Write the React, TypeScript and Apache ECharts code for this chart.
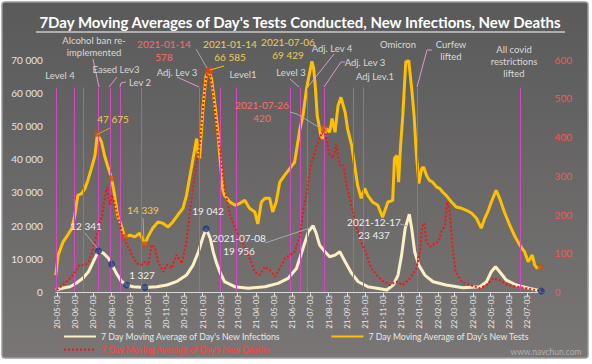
import React, { useEffect, useRef } from "react";
import * as echarts from "echarts";

const tests: [string, number][] = [
  ["2020-05-01", 5100], ["2020-05-05", 11100], ["2020-05-13", 15000], ["2020-05-21", 17100], ["2020-05-28", 19200],
  ["2020-06-02", 23100], ["2020-06-07", 29100], ["2020-06-14", 29700], ["2020-06-19", 31200], ["2020-06-24", 33600],
  ["2020-06-30", 37200], ["2020-07-06", 41100], ["2020-07-10", 47675], ["2020-07-17", 45100], ["2020-07-22", 41100],
  ["2020-07-27", 38100], ["2020-08-03", 34200], ["2020-08-08", 29100], ["2020-08-13", 23100], ["2020-08-19", 20100],
  ["2020-08-25", 16600], ["2020-09-03", 17100], ["2020-09-11", 16600], ["2020-09-19", 17700], ["2020-09-28", 14339],
  ["2020-10-03", 16600], ["2020-10-11", 19200], ["2020-10-20", 21100], ["2020-10-28", 20700], ["2020-11-06", 19600],
  ["2020-11-14", 21100], ["2020-11-22", 23100], ["2020-12-01", 25200], ["2020-12-07", 29100], ["2020-12-12", 34200],
  ["2020-12-17", 39100], ["2020-12-24", 46200], ["2020-12-27", 41100], ["2020-12-29", 40200], ["2021-01-04", 56100],
  ["2021-01-09", 65100], ["2021-01-14", 66585], ["2021-01-18", 64200], ["2021-01-24", 56100], ["2021-01-29", 48000],
  ["2021-02-01", 41100], ["2021-02-06", 31000], ["2021-02-09", 29100], ["2021-02-18", 27100], ["2021-02-27", 26100],
  ["2021-03-07", 26700], ["2021-03-15", 27600], ["2021-03-23", 25200], ["2021-04-01", 24100], ["2021-04-06", 20500],
  ["2021-04-12", 27100], ["2021-04-18", 28200], ["2021-04-26", 28200], ["2021-05-01", 24100], ["2021-05-07", 27100],
  ["2021-05-13", 33100], ["2021-05-21", 35100], ["2021-05-30", 37200], ["2021-06-07", 39100], ["2021-06-16", 49200],
  ["2021-06-21", 53100], ["2021-06-27", 61200], ["2021-07-06", 69429], ["2021-07-09", 67300], ["2021-07-12", 61200],
  ["2021-07-15", 53100], ["2021-07-21", 47100], ["2021-07-24", 46200], ["2021-07-31", 49200], ["2021-08-05", 48100],
  ["2021-08-09", 52200], ["2021-08-14", 48100], ["2021-08-19", 56100], ["2021-08-24", 58600], ["2021-08-31", 54100],
  ["2021-09-04", 49200], ["2021-09-11", 44100], ["2021-09-16", 38100], ["2021-09-21", 32100], ["2021-09-27", 28200],
  ["2021-10-03", 31200], ["2021-10-08", 29100], ["2021-10-16", 27100], ["2021-10-25", 26100], ["2021-11-02", 22500],
  ["2021-11-11", 27100], ["2021-11-19", 27600], ["2021-11-22", 40200], ["2021-11-26", 41100], ["2021-11-29", 33100],
  ["2021-12-02", 43200], ["2021-12-06", 53100], ["2021-12-11", 69200], ["2021-12-16", 69700], ["2021-12-21", 61200],
  ["2021-12-25", 53100], ["2021-12-29", 41100], ["2022-01-02", 32700], ["2022-01-07", 37200], ["2022-01-10", 37600],
  ["2022-01-15", 35100], ["2022-01-20", 33600], ["2022-01-25", 33100], ["2022-02-01", 31600], ["2022-02-06", 31200],
  ["2022-02-11", 30100], ["2022-02-17", 29100], ["2022-02-26", 27100], ["2022-03-06", 25600], ["2022-03-15", 25200],
  ["2022-03-23", 24600], ["2022-04-01", 23700], ["2022-04-09", 22200], ["2022-04-17", 19200], ["2022-04-23", 22200],
  ["2022-04-28", 24100], ["2022-05-04", 27100], ["2022-05-12", 30600], ["2022-05-18", 28200], ["2022-05-26", 24100],
  ["2022-06-04", 20100], ["2022-06-13", 16600], ["2022-06-21", 14100], ["2022-06-29", 12100], ["2022-07-05", 9100],
  ["2022-07-12", 11100], ["2022-07-16", 8100], ["2022-07-20", 7200], ["2022-07-26", 7500],
];

const infections: [string, number][] = [
  ["2020-05-01", 600], ["2020-05-13", 1200], ["2020-05-25", 1600], ["2020-06-05", 2700], ["2020-06-16", 4200],
  ["2020-06-25", 6100], ["2020-07-03", 9100], ["2020-07-12", 12341], ["2020-07-20", 11700], ["2020-07-29", 10100],
  ["2020-08-03", 8400], ["2020-08-11", 5600], ["2020-08-19", 3300], ["2020-08-28", 2100], ["2020-09-08", 1600],
  ["2020-09-28", 1327], ["2020-10-18", 1600], ["2020-11-04", 2100], ["2020-11-20", 3100], ["2020-12-07", 5100],
  ["2020-12-18", 8100], ["2020-12-27", 12100], ["2021-01-03", 16100], ["2021-01-09", 19042], ["2021-01-16", 16100],
  ["2021-01-21", 12100], ["2021-01-26", 9000], ["2021-02-01", 6100], ["2021-02-09", 3100], ["2021-02-26", 1600],
  ["2021-03-21", 1100], ["2021-04-18", 1600], ["2021-05-10", 2600], ["2021-05-27", 4100], ["2021-06-10", 7100],
  ["2021-06-21", 13100], ["2021-06-30", 18100], ["2021-07-08", 19956], ["2021-07-13", 17800], ["2021-07-19", 14100],
  ["2021-07-28", 12100], ["2021-08-05", 10600], ["2021-08-14", 11100], ["2021-08-22", 12100], ["2021-08-31", 9100],
  ["2021-09-11", 5600], ["2021-09-22", 3100], ["2021-10-08", 1600], ["2021-10-31", 900], ["2021-11-09", 600],
  ["2021-11-20", 2100], ["2021-11-28", 5100], ["2021-12-04", 11100], ["2021-12-10", 19100], ["2021-12-17", 23437],
  ["2021-12-21", 19100], ["2021-12-26", 12100], ["2022-01-02", 8100], ["2022-01-12", 5100], ["2022-01-26", 3100],
  ["2022-02-17", 2100], ["2022-03-17", 1300], ["2022-04-15", 1600], ["2022-04-26", 3100], ["2022-05-04", 6100],
  ["2022-05-11", 7600], ["2022-05-18", 6100], ["2022-05-29", 3600], ["2022-06-15", 2100], ["2022-07-08", 1100],
  ["2022-07-27", 300],
];

const deaths: [string, number][] = [
  ["2020-05-03", 5], ["2020-05-19", 27], ["2020-05-30", 44], ["2020-06-10", 70], ["2020-06-19", 70],
  ["2020-06-25", 78], ["2020-06-30", 96], ["2020-07-06", 130], ["2020-07-12", 165], ["2020-07-18", 199],
  ["2020-07-23", 251], ["2020-07-26", 272], ["2020-07-31", 225], ["2020-08-03", 251], ["2020-08-07", 233],
  ["2020-08-11", 208], ["2020-08-17", 173], ["2020-08-22", 143], ["2020-08-29", 122], ["2020-09-06", 96],
  ["2020-09-14", 74], ["2020-09-22", 70], ["2020-09-28", 78], ["2020-10-04", 70], ["2020-10-09", 122],
  ["2020-10-15", 113], ["2020-10-20", 78], ["2020-10-29", 52], ["2020-11-04", 70], ["2020-11-12", 61],
  ["2020-11-20", 96], ["2020-11-29", 74], ["2020-12-07", 130], ["2020-12-12", 199], ["2020-12-18", 268],
  ["2020-12-24", 328], ["2020-12-30", 389], ["2021-01-04", 484], ["2021-01-09", 553], ["2021-01-14", 578],
  ["2021-01-21", 509], ["2021-01-27", 423], ["2021-02-01", 372], ["2021-02-09", 268], ["2021-02-18", 199],
  ["2021-03-01", 156], ["2021-03-10", 130], ["2021-03-21", 96], ["2021-04-01", 52], ["2021-04-09", 44],
  ["2021-04-18", 65], ["2021-04-26", 57], ["2021-05-05", 40], ["2021-05-13", 61], ["2021-05-22", 87],
  ["2021-05-30", 96], ["2021-06-07", 104], ["2021-06-16", 147], ["2021-06-21", 208], ["2021-06-27", 251],
  ["2021-07-03", 320], ["2021-07-08", 346], ["2021-07-14", 376], ["2021-07-19", 397], ["2021-07-26", 420],
  ["2021-07-31", 389], ["2021-08-05", 354], ["2021-08-11", 346], ["2021-08-16", 380], ["2021-08-22", 328],
  ["2021-08-28", 328], ["2021-09-02", 277], ["2021-09-08", 242], ["2021-09-13", 208], ["2021-09-19", 165],
  ["2021-09-27", 130], ["2021-10-06", 96], ["2021-10-14", 61], ["2021-10-25", 40], ["2021-11-03", 27],
  ["2021-11-14", 18], ["2021-11-25", 27], ["2021-12-06", 18], ["2021-12-18", 35], ["2021-12-29", 61],
  ["2022-01-04", 104], ["2022-01-07", 165], ["2022-01-11", 178], ["2022-01-15", 130], ["2022-01-21", 117],
  ["2022-01-26", 122], ["2022-02-04", 130], ["2022-02-09", 156], ["2022-02-15", 173], ["2022-02-19", 233],
  ["2022-02-23", 208], ["2022-02-28", 113], ["2022-03-05", 52], ["2022-03-15", 27], ["2022-03-29", 18],
  ["2022-04-15", 10], ["2022-04-26", 18], ["2022-05-07", 35], ["2022-05-18", 31], ["2022-06-01", 18],
  ["2022-06-15", 14], ["2022-07-02", 10], ["2022-07-25", 3],
];

const testMarkers: [string, number][] = [
  ["2020-07-10", 47675], ["2020-08-03", 34200], ["2020-08-25", 16600], ["2020-09-28", 14339], ["2022-07-26", 7500],
];
const infectionMarkers: [string, number][] = [
  ["2020-07-12", 12341], ["2020-08-03", 8400], ["2020-08-28", 2100], ["2020-09-28", 1327], ["2021-01-09", 19042], ["2022-07-27", 300],
];
const peakMarkers: [string, number][] = [["2021-01-14", 66585]];
const deathMarkers: [string, number][] = [["2021-07-26", 420]];

const eventDates: string[] = [
  "2020-05-01", "2020-06-01", "2020-06-16", "2020-07-12", "2020-07-31", "2020-08-18", "2020-09-21", "2020-12-28",
  "2021-02-01", "2021-03-01", "2021-05-31", "2021-06-16", "2021-06-28", "2021-07-26", "2021-09-13", "2021-10-01",
  "2021-11-25", "2021-12-30", "2022-06-22",
];
const eventTops: number[] = [
  61500, 61500, 61500, 61500, 61500, 61500, 61500, 61500, 61500, 61500, 61500, 61500, 61500, 61500, 61500, 61500,
  71800, 61500, 61500,
];

const leftTicks = { min: 0, max: 70000, interval: 10000 };
const rightTicks = { min: 0, max: 600, interval: 100 };

const NAME_INF = "7 Day Moving Average of Day's New Infections";
const NAME_TEST = "7 Day Moving Average of Day's New Tests";
const NAME_DEATH = "7 Day Moving Average of Day's New Deaths";

function buildDays(): string[] {
  const out: string[] = [];
  const start = Date.UTC(2020, 4, 1);
  const end = Date.UTC(2022, 6, 31);
  for (let t = start; t <= end; t += 86400000) {
    out.push(new Date(t).toISOString().slice(0, 10));
  }
  return out;
}

const FONT = "Lato, 'Open Sans', sans-serif";
const NARROW = "'Liberation Sans Narrow', Lato, sans-serif";

function txt(text: string, x: number, y: number, fill: string, size = 10, extra: any = {}) {
  return {
    type: "text",
    x,
    y,
    z: 100,
    style: {
      text,
      fill,
      font: `${size}px ${FONT}`,
      textAlign: "center",
      textVerticalAlign: "middle",
      lineHeight: 12,
      ...extra,
    },
  };
}
function ln(x1: number, y1: number, x2: number, y2: number, stroke: string) {
  return { type: "line", z: 99, shape: { x1, y1, x2, y2 }, style: { stroke, lineWidth: 1 } };
}
function pl(points: number[][], stroke: string) {
  return { type: "polyline", z: 99, shape: { points }, style: { stroke, lineWidth: 1, fill: null } };
}

export default function App() {
  const ref = useRef<HTMLDivElement>(null);
  useEffect(() => {
    document.body.style.margin = "0";
    if (!ref.current) return;
    const chart = echarts.init(ref.current, null, { renderer: "svg" });
    const days = buildDays();
    const fmt = (v: number) => String(v).replace(/\B(?=(\d{3})+(?!\d))/g, " ");
    const EV = "#dc9ad0";
    const GR = "#a8a8a8";
    const YL = "#f0cc5a";
    const RD = "#ff6b6b";
    const WH = "#efefef";
    const LB = "#d9d9d9";
    const option: any = {
      animation: false,
      backgroundColor: "#ffffff",
      grid: { left: 55.8, right: 48.4, top: 59.5, bottom: 72, outerBoundsMode: "none" },
      legend: [
        {
          data: [NAME_INF, NAME_TEST],
          left: 63,
          top: 332,
          itemWidth: 32,
          itemHeight: 10,
          itemGap: 50,
          padding: 0,
          itemStyle: { opacity: 0 },
          textStyle: { color: "#e8e8e8", fontSize: 8.7, fontFamily: FONT },
        },
        {
          data: [NAME_DEATH],
          left: 63,
          top: 345,
          itemWidth: 32,
          itemHeight: 10,
          padding: 0,
          itemStyle: { opacity: 0 },
          textStyle: { color: "#ff4040", fontSize: 8.7, fontFamily: FONT },
        },
      ],
      xAxis: {
        type: "category",
        data: days,
        boundaryGap: false,
        axisLine: { lineStyle: { color: "#d9d9d9", width: 1 } },
        axisTick: {
          interval: (i: number, v: string) => v.endsWith("-03"),
          length: 4,
          lineStyle: { color: "#d9d9d9" },
        },
        axisLabel: {
          interval: (i: number, v: string) => v.endsWith("-03"),
          formatter: (v: string) => v.slice(2),
          rotate: 90,
          color: "#e6e6e6",
          fontSize: 8,
          fontFamily: NARROW,
          margin: 3,
        },
        splitLine: { show: false },
      },
      yAxis: [
        {
          type: "value",
          ...leftTicks,
          axisLine: { show: false },
          axisTick: { show: false },
          splitLine: { show: false },
          axisLabel: { color: "#e6e6e6", fontSize: 10, fontFamily: FONT, margin: 13, formatter: fmt },
        },
        {
          type: "value",
          ...rightTicks,
          axisLine: { show: false },
          axisTick: { show: false },
          splitLine: { show: false },
          axisLabel: { color: "#ff5252", fontSize: 10, fontFamily: FONT, margin: 11 },
        },
      ],
      series: [
        {
          name: "events",
          type: "line",
          data: [],
          z: 1,
          silent: true,
          markLine: {
            silent: true,
            symbol: "none",
            label: { show: false },
            lineStyle: { color: "#d846c8", width: 1, type: "solid" },
            data: eventDates.map((d, i) => [{ coord: [d, eventTops[i]] }, { coord: [d, 0] }]),
          },
        },
        {
          name: NAME_INF,
          type: "line",
          data: infections,
          symbol: "none",
          z: 3,
          lineStyle: { color: "#fdf0c6", width: 3 },
          itemStyle: { color: "#fdf0c6" },
        },
        {
          name: NAME_TEST,
          type: "line",
          data: tests,
          symbol: "none",
          z: 4,
          lineStyle: { color: "#ffc000", width: 3 },
          itemStyle: { color: "#ffc000" },
        },
        {
          name: NAME_DEATH,
          type: "line",
          yAxisIndex: 1,
          data: deaths,
          symbol: "none",
          z: 5,
          lineStyle: { color: "#ff1010", width: 2, type: [2, 2] },
          itemStyle: { color: "#ff1010" },
        },
        {
          type: "scatter",
          data: testMarkers,
          symbol: "rect",
          symbolSize: 6,
          z: 6,
          itemStyle: { color: "#b8561a" },
        },
        {
          type: "scatter",
          data: peakMarkers,
          symbol: "rect",
          symbolSize: 7,
          z: 6,
          itemStyle: { color: "#e0401a" },
        },
        {
          type: "scatter",
          data: infectionMarkers,
          symbol: "circle",
          symbolSize: 7,
          z: 6,
          itemStyle: { color: "#1f3a7e" },
        },
        {
          type: "scatter",
          yAxisIndex: 1,
          data: deathMarkers,
          symbol: "rect",
          symbolSize: 6,
          z: 6,
          itemStyle: { color: "#e0601a" },
        },
      ],
      graphic: [
        {
          type: "rect",
          z: -10,
          shape: { x: 2, y: 2, width: 586, height: 356, r: 3 },
          style: {
            fill: new echarts.graphic.LinearGradient(0, 0, 0, 1, [
              { offset: 0, color: "#5a5a5a" },
              { offset: 1, color: "#797675" },
            ]),
            stroke: "#9c9c9c",
            lineWidth: 1.5,
          },
        },
        {
          type: "text",
          x: 300,
          y: 22,
          z: 100,
          style: {
            text: "7Day Moving Averages of Day's Tests Conducted, New Infections, New Deaths",
            fill: "#ffffff",
            font: `bold 15px ${FONT}`,
            textAlign: "center",
            textVerticalAlign: "middle",
          },
        },
        { type: "line", z: 100, shape: { x1: 36, y1: 32, x2: 565, y2: 32 }, style: { stroke: "#ffffff", lineWidth: 1.2 } },
        // event labels
        txt("Level 4", 60, 75, LB, 9.5),
        txt("Alcohol ban re-\nimplemented", 94, 46, LB, 9.5),
        ln(93, 59, 99, 87, EV),
        txt("Eased Lev3", 116, 69, LB, 9.5),
        ln(117, 77, 109, 87, EV),
        txt("Lev 2", 140, 82, LB, 9.5),
        pl([[126, 82], [121, 83], [120, 87]], EV),
        txt("Adj. Lev 3", 177, 72, LB, 9.5),
        ln(177, 77, 199, 87, EV),
        txt("Level1", 243, 74, LB, 9.5),
        txt("Level 3", 291, 72, LB, 9.5),
        ln(290, 79, 299, 87, EV),
        txt("Adj. Lev 4", 332, 48, LB, 9.5),
        ln(334, 54, 307, 88, EV),
        txt("Adj. Lev 3", 365, 62, LB, 9.5),
        pl([[345, 62], [341, 62], [324, 87]], EV),
        txt("Adj Lev.1", 375, 76, LB, 9.5),
        txt("Omicron", 398, 44, LB, 9.5),
        txt("Curfew\nlifted", 451, 50, LB, 9.5),
        pl([[432, 50], [427, 50], [417, 87]], EV),
        txt("All covid\nrestrictions\nlifted", 514, 61, LB, 9.5),
        // data labels
        txt("2021-01-14\n578", 164, 50, RD, 10, { lineHeight: 13 }),
        ln(196, 49, 207, 68, GR),
        txt("2021-01-14\n66 585", 230, 50, YL, 10, { lineHeight: 13 }),
        ln(210, 70, 224, 66, "#ffc000"),
        txt("2021-07-06\n69 429", 288, 48, YL, 10, { lineHeight: 13 }),
        txt("2021-07-26\n420", 262, 111, RD, 10, { lineHeight: 13 }),
        pl([[290, 112], [297, 114], [320, 128]], GR),
        txt("47 675", 113, 119, YL, 10),
        ln(110, 128, 98, 134, "#e0a020"),
        txt("14 339", 143, 210, YL, 10),
        ln(143, 218, 144, 242, GR),
        txt("12 341", 86, 226, WH, 10),
        ln(85, 233, 97, 248, GR),
        txt("1 327", 142, 275, WH, 10),
        txt("19 042", 208, 211, WH, 10),
        txt("2021-07-08\n19 956", 239, 244, WH, 10, { lineHeight: 13 }),
        pl([[265, 243], [310, 228]], GR),
        txt("2021-12-17\n23 437", 374, 228, WH, 10, { lineHeight: 13 }),
        ln(400, 224, 407, 226, GR),
        txt("www.navchun.com", 546, 352, "#b0b0b0", 8.5),
      ],
    };
    chart.setOption(option);
    return () => chart.dispose();
  }, []);
  return <div ref={ref} style={{ width: 592, height: 364 }} />;
}
